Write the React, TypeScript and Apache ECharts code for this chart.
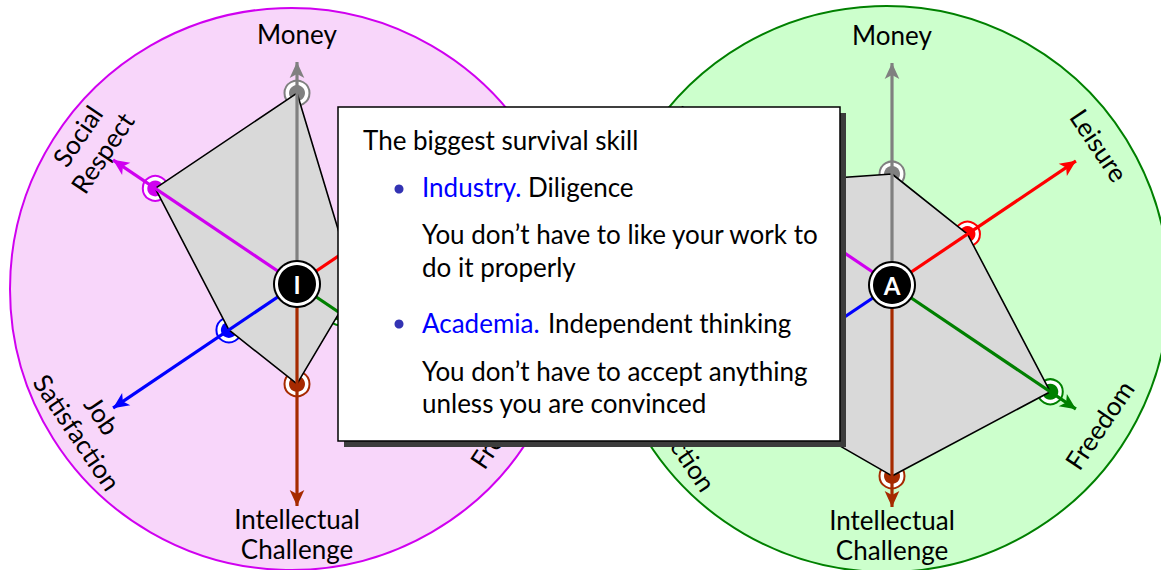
import React, { useEffect, useRef } from "react";
import * as echarts from "echarts";

// ---------- data ----------
const axisNames = ["Money", "Leisure", "Freedom", "Intellectual\nChallenge", "Job\nSatisfaction", "Social\nRespect"];
const axisColors = ["#808080", "#ff0000", "#008000", "#a62a00", "#0000ff", "#d000f0"];
const axisMax = 10;
const industryValues = [8.6, 2.6, 2.3, 4.5, 3.7, 7.7];
const academiaValues = [5.0, 4.1, 8.6, 8.6, 8.3, 8.1];
const profileLetters = ["I", "A"];
const boxTitle = "The biggest survival skill";
const itemHeads = ["Industry.", "Academia."];
const itemTaglines = ["Diligence", "Independent thinking"];
const itemLines = [
  ["You don’t have to like your work to", "do it properly"],
  ["You don’t have to accept anything", "unless you are convinced"],
];

// ---------- layout ----------
const axisAngles = [90, 34, 326, 270, 214, 146];
const CENTERS = [
  [297, 284],
  [892, 285],
];
const AXIS_R = 222;
const LABEL_R = 250;
const BG = [
  { cx: 291, cy: 289, r: 281, fill: "#f8d6fa", stroke: "#d000f0" },
  { cx: 886, cy: 289, r: 283, fill: "#ccffcc", stroke: "#008000" },
];
const FONT = '"Lato", "DejaVu Sans", sans-serif';
const FS = 26;

function buildSeries(k: number, vals: number[]) {
  const s: any[] = [];
  s.push({
    type: "scatter", coordinateSystem: "polar", polarIndex: k, silent: true, z: 2,
    symbolSize: 25,
    data: vals.map((v, i) => ({ value: [v, axisAngles[i]], itemStyle: { color: "#fff", borderColor: axisColors[i], borderWidth: 2, opacity: 1 } })),
  });
  s.push({
    type: "scatter", coordinateSystem: "polar", polarIndex: k, silent: true, z: 2,
    symbolSize: 16,
    data: vals.map((v, i) => ({ value: [v, axisAngles[i]], itemStyle: { color: axisColors[i], opacity: 1 } })),
  });
  const poly = vals.map((v, i) => [v, axisAngles[i]]);
  poly.push(poly[0]);
  s.push({
    type: "line", coordinateSystem: "polar", polarIndex: k, silent: true, z: 3, clip: false,
    data: poly, symbol: "none",
    lineStyle: { color: "#000", width: 1.6 },
    areaStyle: { color: "#d9d9d9", opacity: 1 },
  });
  axisAngles.forEach((a, i) => {
    s.push({
      type: "line", coordinateSystem: "polar", polarIndex: k, silent: true, z: 4, clip: false,
      data: [
        { value: [0, a], symbol: "none" },
        { value: [axisMax, a], symbol: "arrow", symbolSize: [11, 16], symbolRotate: a - 90 },
      ],
      lineStyle: { color: axisColors[i], width: 3.2 },
      itemStyle: { color: axisColors[i], opacity: 1 },
    });
  });
  s.push({ type: "scatter", coordinateSystem: "polar", polarIndex: k, silent: true, z: 5, symbolSize: 48, data: [[0, 0]], itemStyle: { color: "#000", opacity: 1 } });
  s.push({ type: "scatter", coordinateSystem: "polar", polarIndex: k, silent: true, z: 5, symbolSize: 44, data: [[0, 0]], itemStyle: { color: "#fff", opacity: 1 } });
  s.push({
    type: "scatter", coordinateSystem: "polar", polarIndex: k, silent: true, z: 5, symbolSize: 38, data: [[0, 0]],
    itemStyle: { color: "#000", opacity: 1 },
    label: { show: true, position: "inside", formatter: profileLetters[k], color: "#fff", fontSize: 24, fontWeight: "bold", fontFamily: FONT },
  });
  return s;
}

function buildGraphics() {
  const g: any[] = [];
  BG.forEach((b) => {
    g.push({ type: "circle", z: 0, silent: true, shape: { cx: b.cx, cy: b.cy, r: b.r }, style: { fill: b.fill, stroke: b.stroke, lineWidth: 2 } });
  });
  CENTERS.forEach(([cx, cy]) => {
    axisAngles.forEach((a, i) => {
      const rad = (a * Math.PI) / 180;
      const x = cx + LABEL_R * Math.cos(rad);
      const y = cy - LABEL_R * Math.sin(rad);
      const upper = a > 0 && a < 180;
      const rot = upper ? a - 90 : a - 270;
      g.push({
        type: "text", z: 1, silent: true, x, y, rotation: (rot * Math.PI) / 180,
        style: { text: axisNames[i], font: `${FS}px ${FONT}`, fill: "#000", align: "center", verticalAlign: "middle", lineHeight: 30 },
      });
    });
  });
  const bx = 338, by = 107, bw = 502, bh = 334;
  g.push({ type: "rect", z: 100, silent: true, shape: { x: bx + 6, y: by + 6, width: bw, height: bh }, style: { fill: "#3c3c3c" } });
  g.push({ type: "rect", z: 101, silent: true, shape: { x: bx, y: by, width: bw, height: bh }, style: { fill: "#fff", stroke: "#000", lineWidth: 1.5 } });
  const txt = (text: string, x: number, base: number, fill = "#000") => ({
    type: "text", z: 102, silent: true, x, y: base + 2.5,
    style: { text, font: `${FS}px ${FONT}`, fill, align: "left", verticalAlign: "bottom" },
  });
  g.push(txt(boxTitle, 363, 150));
  const rows = [
    { bullet: 189, base: 197, tagX: 528, lines: [244, 277] },
    { bullet: 324, base: 333, tagX: 548, lines: [381, 413] },
  ];
  rows.forEach((r, i) => {
    g.push({ type: "circle", z: 102, silent: true, shape: { cx: 399, cy: r.bullet, r: 4.5 }, style: { fill: "#3333b3" } });
    g.push(txt(itemHeads[i], 422, r.base, "#0000ff"));
    g.push(txt(itemTaglines[i], r.tagX, r.base));
    itemLines[i].forEach((l, j) => g.push(txt(l, 422, r.lines[j])));
  });
  return g;
}

export default function App() {
  const ref = useRef<HTMLDivElement>(null);
  useEffect(() => {
    document.body.style.margin = "0";
    const chart = echarts.init(ref.current!, null, { renderer: "svg" });
    chart.setOption({
      animation: false,
      backgroundColor: "#fff",
      polar: CENTERS.map((c) => ({ center: c, radius: AXIS_R })),
      angleAxis: CENTERS.map((_, k) => ({ polarIndex: k, type: "value", min: 0, max: 360, startAngle: 0, clockwise: false, show: false })),
      radiusAxis: CENTERS.map((_, k) => ({ polarIndex: k, type: "value", min: 0, max: axisMax, show: false })),
      series: [...buildSeries(0, industryValues), ...buildSeries(1, academiaValues)],
      graphic: { elements: buildGraphics() },
    });
    return () => chart.dispose();
  }, []);
  return <div ref={ref} style={{ width: 1161, height: 570 }} />;
}
